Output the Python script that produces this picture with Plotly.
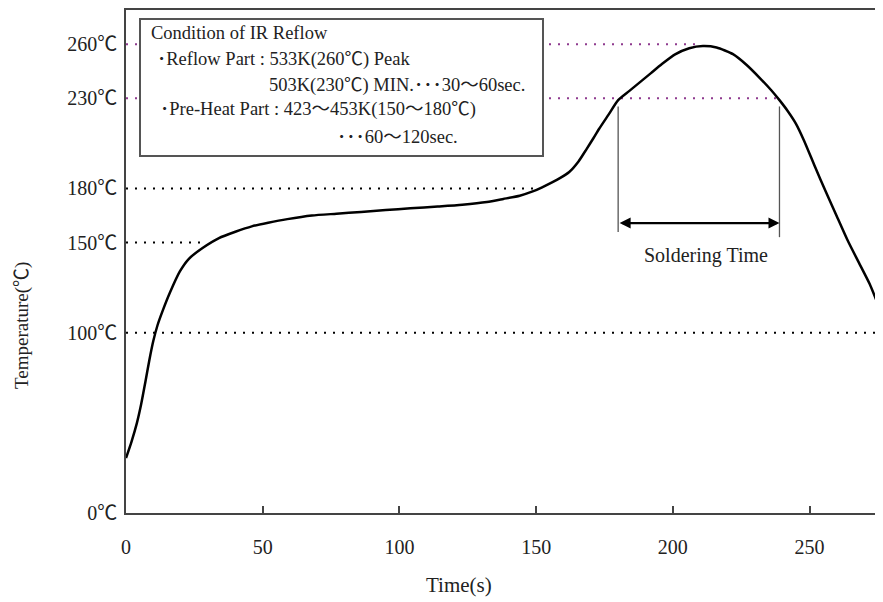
import plotly.graph_objects as go

# ---- data ----
time_s = [0, 2, 4, 5.5, 7, 8.5, 10, 11.5, 13.5, 16, 19.7, 23, 28, 34, 40, 46, 52, 59, 68, 77,
          86, 95, 104, 114, 123, 132, 138, 144, 149, 152, 156, 159, 162, 165.5, 168.5, 171, 173,
          176.5, 180, 184, 188, 192, 196, 201, 206, 211, 216, 222, 227, 232, 236, 239, 242, 245,
          248, 252, 256, 260, 264, 268, 272, 276.5]
temp_c = [30.5, 39.5, 50, 60, 72, 84.5, 95.5, 104, 112.5, 122, 134, 141, 147, 152.5, 156, 159,
          161, 163, 165, 166, 167, 168, 169, 170, 171, 172.5, 174.2, 176, 178.5, 180.5, 183.5,
          186, 189, 195, 202, 208, 213, 221, 229, 234, 239, 244, 249, 254.5, 257.8, 259, 258.2,
          254.5, 248.5, 241, 234.5, 229, 223, 216, 206.5, 192, 178, 164.5, 151, 139, 127, 110]

y_tick_vals = [0, 100, 150, 180, 230, 260]
y_tick_text = ["0℃", "100℃", "150℃", "180℃", "230℃", "260℃"]
x_tick_vals = [0, 50, 100, 150, 200, 250]

ref_levels = [260, 230, 180, 150, 100]
ref_ends = [208.7, 239, 149, 27.6, 276.5]
ref_colors = ["#8e3a8e", "#8e3a8e", "#000000", "#000000", "#000000"]

solder_start, solder_end = 180, 239
solder_top = 225.5
solder_bottoms = [155.8, 153]
arrow_level = 160.8

box_lines = [
    "Condition of IR Reflow",
    "･Reflow Part : 533K(260℃) Peak",
    "503K(230℃) MIN.･･･30～60sec.",
    "･Pre-Heat Part : 423～453K(150～180℃)",
    "･･･60～120sec.",
]

FONT = "Liberation Serif, Noto Sans CJK JP, DejaVu Serif, serif"

OFF = 8  # page body margin
W, H = 875, 594
L, R, T, B = 118, 1, 2, 89
pw, ph = W - L - R, H - T - B

def px(xp):  # page pixel -> paper
    return (xp - OFF - L) / pw

def py(yp):
    return (H - B - (yp - OFF)) / ph

fig = go.Figure()

fig.add_trace(go.Scatter(x=time_s, y=temp_c, mode="lines",
                         line=dict(color="black", width=2.5, shape="spline", smoothing=0.6),
                         hoverinfo="skip", showlegend=False))

shapes = []
for lvl, end, col in zip(ref_levels, ref_ends, ref_colors):
    shapes.append(dict(type="line", xref="x", yref="y", x0=0, x1=end, y0=lvl, y1=lvl,
                       line=dict(color=col, width=2, dash="2px,7px"), layer="below"))

for xv, yb in zip([solder_start, solder_end], solder_bottoms):
    shapes.append(dict(type="line", xref="x", yref="y", x0=xv, x1=xv, y0=solder_top, y1=yb,
                       line=dict(color="#555555", width=1.3)))

# text box
shapes.append(dict(type="rect", xref="paper", yref="paper",
                   x0=px(140), x1=px(543), y0=py(156), y1=py(19),
                   line=dict(color="#555555", width=2), fillcolor="white"))

annotations = []
annotations.append(dict(x=solder_end, y=arrow_level, ax=solder_start, ay=arrow_level,
                        xref="x", yref="y", axref="x", ayref="y", text="",
                        showarrow=True, arrowhead=2, arrowside="end+start", arrowsize=1,
                        arrowwidth=2.2, arrowcolor="black", standoff=0, startstandoff=0))
annotations.append(dict(x=px(706), y=py(255), xref="paper", yref="paper",
                        xanchor="center", yanchor="middle",
                        text="Soldering Time", showarrow=False,
                        font=dict(family=FONT, size=20, color="#222")))

box_pos = [(149, 33), (155, 59), (267, 85), (158, 110), (335, 137)]
for txt, (xp, yp) in zip(box_lines, box_pos):
    annotations.append(dict(x=px(xp), y=py(yp), xref="paper", yref="paper", text=txt,
                            xanchor="left", yanchor="middle", showarrow=False,
                            font=dict(family=FONT, size=18.5, color="#222")))

annotations.append(dict(x=px(459), y=py(585), xref="paper", yref="paper", text="Time(s)",
                        xanchor="center", yanchor="middle",
                        showarrow=False, font=dict(family=FONT, size=21, color="#222")))
annotations.append(dict(x=px(22), y=py(326), xref="paper", yref="paper", text="Temperature(℃)",
                        xanchor="center", yanchor="middle",
                        textangle=-90, showarrow=False, font=dict(family=FONT, size=19, color="#222")))

fig.update_layout(
    width=W, height=H,
    margin=dict(l=L, r=R, t=T, b=B),
    plot_bgcolor="white", paper_bgcolor="white",
    shapes=shapes, annotations=annotations,
    font=dict(family=FONT, size=20, color="#222"),
    xaxis=dict(range=[0, 276.5], tickvals=x_tick_vals, ticks="inside", ticklen=7,
               tickcolor="#444", tickwidth=1.5, showline=True, linecolor="#444", linewidth=1.5,
               mirror=True, showgrid=False, zeroline=False, ticklabelstandoff=15,
               tickfont=dict(family=FONT, size=20, color="#222")),
    yaxis=dict(range=[0, 279], tickvals=y_tick_vals, ticktext=y_tick_text, ticks="",
               showline=True, linecolor="#444", linewidth=1.5, showgrid=False, zeroline=False,
               ticklabelstandoff=3, tickfont=dict(family=FONT, size=20, color="#222")),
)

fig.write_html("out.html")
